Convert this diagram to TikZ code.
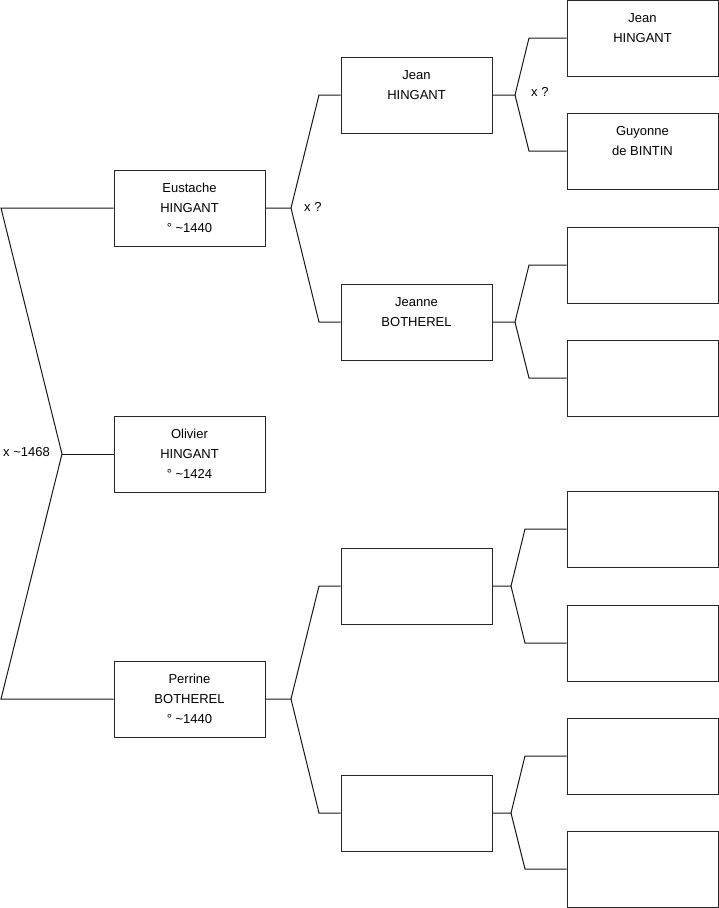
\documentclass[tikz,border=0pt]{standalone}
\usepackage{fontspec}
\setmainfont{Liberation Sans}
\usetikzlibrary{positioning}
\begin{document}
\begin{tikzpicture}[x=1pt, y=-1pt,
  every node/.style={font=\fontsize{13}{20}\selectfont},
  pers/.style={rectangle, draw=black!85, fill=white, minimum width=151pt,
               minimum height=76pt, inner sep=0pt, align=center, line width=1pt},
  br/.style={black!90, line width=1pt},
  mar/.style={anchor=west, inner sep=0pt}
]
\useasboundingbox (0,0) rectangle (719,908);

%% generation 1
\node[pers] (eus) at (189.5,208) {Eustache\\HINGANT\\° \textasciitilde1440};
\node[pers] (oli) at (189.5,454) {Olivier\\HINGANT\\° \textasciitilde1424};
\node[pers] (per) at (189.5,699) {Perrine\\BOTHEREL\\° \textasciitilde1440};

%% generation 2
\node[pers] (jea) at (416.5,95)  {Jean\\HINGANT\\\mbox{}};
\node[pers] (jne) at (416.5,322) {Jeanne\\BOTHEREL\\\mbox{}};
\node[pers] (pa)  at (416.5,586) {};
\node[pers] (pb)  at (416.5,813) {};

%% generation 3
\node[pers] (jeb) at (642.5,38)  {Jean\\HINGANT\\\mbox{}};
\node[pers] (guy) at (642.5,151) {Guyonne\\de BINTIN\\\mbox{}};
\foreach \n/\y in {q1/265, q2/378, q3/529, q4/643, q5/756, q6/869}
  \node[pers] (\n) at (642.5,\y) {};

%% couple Olivier
\coordinate (ot) at (1,208);
\coordinate (ob) at (1,699);
\coordinate (oj) at (62,454);
\draw[br] (eus.west) -- (ot) -- (oj) -- (ob) -- (per.west);
\draw[br] (oj) -- (oli.west);
\node[mar] (m0) at (3,452) {x \textasciitilde1468};

%% couples generation 1
\foreach \p/\y/\a/\b/\ya/\yb in {eus/208/jea/jne/95/322, per/699/pa/pb/586/813}{
  \coordinate (\p j) at (291,\y);
  \coordinate (\p u) at (319,\ya);
  \coordinate (\p d) at (319,\yb);
  \draw[br] (\p.east) -- (\p j) -- (\p u) -- (\a.west);
  \draw[br] (\p j) -- (\p d) -- (\b.west);
}
\node[mar] (m1) at (304,207) {x ?};

%% couples generation 2
\foreach \p/\y/\a/\b/\ya/\yb/\xj in {jea/95/jeb/guy/38/151/515, jne/322/q1/q2/265/378/515,
    pa/586/q3/q4/529/643/511, pb/813/q5/q6/756/869/511}{
  \coordinate (\p j) at (\xj,\y);
  \coordinate (\p u) at (\xj+14,\ya);
  \coordinate (\p d) at (\xj+14,\yb);
  \draw[br] (\p.east) -- (\p j) -- (\p u) -- (\a.west);
  \draw[br] (\p j) -- (\p d) -- (\b.west);
}
\node[mar] (m2) at (531,92) {x ?};
\end{tikzpicture}
\end{document}
